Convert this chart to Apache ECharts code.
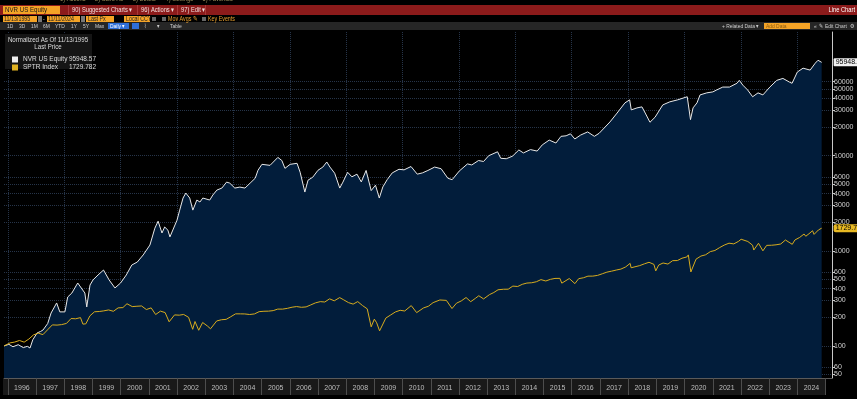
<!DOCTYPE html>
<html>
<head>
<meta charset="utf-8">
<script src="https://cdn.jsdelivr.net/npm/echarts@6/dist/echarts.min.js"></script>
<style>
html, body { margin: 0; padding: 0; background: #000; }
#main { width: 857px; height: 399px; }
</style>
</head>
<body>
<div id="main"></div>
<script>
// NVR US Equity, normalized to 100 on 11/13/1995
var nvrDates = [
    '1995-11-13',
    '1996-01-15', '1996-03-08', '1996-05-15', '1996-07-20', '1996-09-10', '1996-10-15', '1996-11-20',
    '1997-01-15', '1997-03-01', '1997-04-01', '1997-06-01', '1997-07-15', '1997-09-25', '1997-11-05',
    '1998-01-10', '1998-02-15', '1998-04-10', '1998-06-25', '1998-09-25', '1998-10-20', '1998-12-01',
    '1999-01-10', '1999-03-15', '1999-05-25', '1999-08-05', '1999-10-20',
    '2000-01-01', '2000-03-15', '2000-05-25', '2000-08-05', '2000-10-20',
    '2001-01-15', '2001-03-20', '2001-05-01', '2001-06-20', '2001-07-25', '2001-09-05', '2001-10-01',
    '2002-01-01', '2002-02-05', '2002-03-20', '2002-04-25', '2002-06-15', '2002-07-25', '2002-09-15', '2002-10-25', '2002-12-01',
    '2003-03-01', '2003-04-10', '2003-06-01', '2003-08-05', '2003-10-05', '2003-11-15',
    '2004-01-20', '2004-03-25', '2004-05-30', '2004-08-05', '2004-10-10', '2004-11-15',
    '2005-01-05', '2005-04-20', '2005-07-30', '2005-09-20', '2005-10-30',
    '2006-01-05', '2006-04-05', '2006-05-15', '2006-07-15', '2006-08-25', '2006-10-25',
    '2007-01-01', '2007-03-05', '2007-04-25', '2007-06-05', '2007-08-05', '2007-10-10', '2007-11-20',
    '2008-01-20', '2008-03-15', '2008-05-20', '2008-07-15', '2008-09-15', '2008-11-20',
    '2009-01-15', '2009-03-05', '2009-04-20', '2009-06-15', '2009-08-20', '2009-11-15',
    '2010-01-20', '2010-04-20', '2010-07-10', '2010-09-15', '2010-11-25',
    '2011-02-20', '2011-05-15', '2011-08-10', '2011-10-05',
    '2012-01-05', '2012-04-20', '2012-06-15', '2012-09-10', '2012-11-15',
    '2013-01-20', '2013-05-15', '2013-06-25', '2013-09-05', '2013-11-25',
    '2014-02-15', '2014-04-15', '2014-07-15', '2014-10-10', '2014-12-15',
    '2015-03-15', '2015-06-10', '2015-08-15', '2015-10-20', '2015-12-15',
    '2016-02-10', '2016-04-25', '2016-07-25', '2016-10-20', '2016-12-20',
    '2017-01-10', '2017-05-10', '2017-08-10', '2017-11-20',
    '2018-01-20', '2018-02-10', '2018-04-25', '2018-06-28', '2018-08-10', '2018-10-10', '2018-12-15',
    '2019-03-25', '2019-06-25', '2019-10-05',
    '2020-02-05', '2020-03-18', '2020-04-20', '2020-06-10', '2020-07-20', '2020-10-15',
    '2021-01-01', '2021-02-20', '2021-05-10', '2021-08-05', '2021-11-10', '2021-12-10',
    '2022-01-25', '2022-03-28', '2022-06-01', '2022-08-10', '2022-10-12',
    '2023-01-10', '2023-04-10', '2023-06-28', '2023-09-25', '2023-10-25',
    '2024-01-01', '2024-03-15', '2024-06-15', '2024-08-20', '2024-09-25', '2024-11-11'
];
var nvrValues = [
    100,
    104, 98, 103, 96, 99, 95, 116,
    137, 142, 147, 172, 222, 283, 228,
    228, 327, 360, 459, 360, 257, 437,
    495, 557, 628, 495, 407,
    459, 557, 709, 763, 905,
    1150, 1730, 2050, 1540, 1780, 1650, 1400,
    2100, 2680, 3590, 4050, 3590, 2680, 3420, 3260, 3590,
    3420, 3860, 4350, 4570, 5280, 5150,
    4570, 4680, 4570, 5150, 5800, 7030,
    8120, 7920, 9600, 8910, 7370,
    8120, 8320, 6700, 4150, 5530, 5940,
    7030, 7600, 8590, 7600, 6550, 4570, 5280,
    6700, 6000, 6400, 5300, 7000, 4300,
    4900, 3590, 4700, 5600, 6600, 7200,
    7100, 7700, 6400, 6600, 7000,
    7600, 7300, 5800, 5600,
    6900, 8200, 8000, 8900, 8700,
    10000, 11000, 9400, 9300, 9900,
    11500, 10700, 11600, 11200, 13000,
    14600, 13600, 16000, 16200, 17000,
    15000, 16500, 17800, 16000, 17200,
    17760, 22650, 28090, 35960,
    38700, 30330, 31840, 32630, 28090, 22500, 25400,
    34240, 36890, 38700,
    41700, 23950, 31840, 35960, 43600, 45820,
    46900, 49140, 52720, 52720, 57800, 62040,
    55230, 49140, 41700, 45820, 43600,
    52720, 62040, 65000, 59200, 57800,
    75900, 83300, 79500, 94000, 100900, 95948.57
];

// SPTR Index, normalized to 100 on 11/13/1995
var sptrDates = [
    '1995-11-13',
    '1996-01-31', '1996-03-29', '1996-05-31', '1996-07-31', '1996-09-30', '1996-11-29',
    '1997-01-31', '1997-03-31', '1997-05-30', '1997-07-31', '1997-09-30', '1997-11-28',
    '1998-01-30', '1998-03-31', '1998-05-29', '1998-07-31', '1998-08-31', '1998-10-08', '1998-11-30',
    '1999-01-29', '1999-03-31', '1999-05-28', '1999-07-30', '1999-09-30', '1999-11-30',
    '2000-01-31', '2000-03-24', '2000-05-31', '2000-07-31', '2000-09-29', '2000-11-30',
    '2001-01-31', '2001-03-30', '2001-05-31', '2001-07-31', '2001-09-21', '2001-11-30',
    '2002-01-31', '2002-03-28', '2002-05-31', '2002-07-23', '2002-08-22', '2002-10-09', '2002-11-29',
    '2003-01-31', '2003-03-11', '2003-05-30', '2003-07-31', '2003-09-30', '2003-11-28',
    '2004-01-30', '2004-03-31', '2004-05-28', '2004-07-30', '2004-09-30', '2004-11-30',
    '2005-01-31', '2005-03-31', '2005-05-31', '2005-07-29', '2005-09-30', '2005-11-30',
    '2006-01-31', '2006-03-31', '2006-05-31', '2006-07-31', '2006-09-29', '2006-11-30',
    '2007-01-31', '2007-03-30', '2007-05-31', '2007-07-31', '2007-10-09', '2007-11-30',
    '2008-01-31', '2008-03-31', '2008-05-30', '2008-07-31', '2008-09-30', '2008-11-20', '2008-12-31',
    '2009-01-30', '2009-03-09', '2009-05-29', '2009-07-31', '2009-09-30', '2009-11-30',
    '2010-01-29', '2010-04-23', '2010-07-02', '2010-09-30', '2010-11-30',
    '2011-01-31', '2011-04-29', '2011-07-22', '2011-10-03', '2011-11-30',
    '2012-01-31', '2012-04-02', '2012-06-01', '2012-07-31', '2012-09-14', '2012-11-15',
    '2013-01-31', '2013-03-28', '2013-05-21', '2013-07-31', '2013-09-30', '2013-11-29',
    '2014-01-31', '2014-03-31', '2014-05-30', '2014-07-31', '2014-09-30', '2014-11-28',
    '2015-01-30', '2015-03-31', '2015-05-29', '2015-07-31', '2015-08-25', '2015-11-30',
    '2016-02-11', '2016-03-31', '2016-05-31', '2016-07-29', '2016-09-30', '2016-11-30',
    '2017-01-31', '2017-03-31', '2017-05-31', '2017-07-31', '2017-09-29', '2017-11-30',
    '2018-01-26', '2018-02-08', '2018-05-31', '2018-07-31', '2018-09-28', '2018-11-30', '2018-12-24',
    '2019-01-31', '2019-03-29', '2019-05-31', '2019-07-31', '2019-09-30', '2019-11-29',
    '2020-01-31', '2020-02-19', '2020-03-23', '2020-05-29', '2020-07-31', '2020-09-30', '2020-11-30',
    '2021-01-29', '2021-03-31', '2021-05-28', '2021-07-30', '2021-09-30', '2021-11-30',
    '2022-01-03', '2022-03-31', '2022-05-31', '2022-06-16', '2022-08-16', '2022-10-12', '2022-11-30',
    '2023-01-31', '2023-03-31', '2023-05-31', '2023-07-31', '2023-10-27', '2023-11-30',
    '2024-01-31', '2024-03-28', '2024-04-19', '2024-05-31', '2024-07-16', '2024-08-05', '2024-09-30', '2024-11-11'
];
var sptrValues = [
    100,
    107.7, 109.7, 114.1, 109.6, 118.1, 130.6,
    136.2, 131.4, 147.6, 166.4, 165.6, 167.5,
    172.4, 194.2, 192.9, 198.5, 169.6, 170.7, 207.3,
    228.6, 230.1, 233.7, 239.0, 231.3, 251.2,
    253.0, 277.7, 259.1, 261.4, 263.2, 241.3,
    251.4, 213.9, 232.2, 224.3, 179.4, 211.9,
    210.6, 214.2, 199.8, 149.5, 180.6, 146.1, 176.4,
    161.7, 151.4, 183.1, 188.5, 190.3, 202.7,
    217.5, 217.3, 216.9, 214.0, 217.0, 229.3,
    231.5, 232.1, 235.1, 244.0, 243.8, 248.4,
    255.4, 259.3, 254.9, 257.2, 269.8, 283.8,
    292.3, 289.6, 312.8, 298.2, 322.4, 305.3,
    285.5, 275.2, 292.4, 265.7, 245.5, 158.8, 191.2,
    175.2, 144.0, 196.4, 211.8, 227.7, 236.9,
    233.0, 265.5, 224.0, 251.2, 261.0,
    285.3, 304.2, 301.3, 247.3, 281.5,
    297.3, 322.9, 291.9, 315.9, 337.1, 312.0,
    346.7, 364.5, 389.4, 394.5, 395.0, 425.7,
    421.7, 444.4, 458.3, 461.6, 473.1, 497.9,
    482.0, 501.4, 512.6, 513.6, 457.0, 511.3,
    452.1, 509.9, 520.8, 541.7, 542.1, 551.7,
    573.7, 596.8, 611.2, 628.0, 642.6, 677.7,
    738.2, 663.6, 699.2, 730.3, 758.1, 720.4, 615.2,
    708.5, 745.0, 725.8, 788.4, 790.1, 836.3,
    862.2, 906.1, 599.4, 817.6, 880.8, 908.5, 980.9,
    1008.9, 1082.0, 1147.7, 1203.6, 1182.6, 1257.6,
    1323.4, 1253.5, 1146.2, 1019.1, 1200.7, 1000.1, 1141.4,
    1144.7, 1156.4, 1180.0, 1299.3, 1170.5, 1299.5,
    1382.7, 1502.7, 1422.3, 1512.2, 1626.5, 1489.3, 1656.7, 1729.782
];

// axis ticks
var yearLabels = [1996, 1997, 1998, 1999, 2000, 2001, 2002, 2003, 2004, 2005, 2006, 2007, 2008, 2009, 2010,
    2011, 2012, 2013, 2014, 2015, 2016, 2017, 2018, 2019, 2020, 2021, 2022, 2023, 2024];
var yTickLabels = [50, 60, 100, 200, 300, 400, 500, 600, 1000, 2000, 3000, 4000, 5000, 6000,
    10000, 20000, 30000, 40000, 50000, 60000];

var FONT = '"Liberation Sans", Arial, sans-serif';

function ts(s) { return Date.parse(s); }   // ISO date -> UTC ms

function pairs(dates, values) {
    var out = [];
    for (var i = 0; i < dates.length; i++) {
        out.push([ts(dates[i]), values[i]]);
    }
    return out;
}

var yearStarts = [], yearMids = [], gridYears = [];
yearLabels.forEach(function (y) {
    yearStarts.push(ts(y + '-01-01'));
    yearMids.push(ts(y + '-07-02'));
    if (y % 2 == 0) gridYears.push(ts(y + '-01-01'));
});
yearStarts.push(ts('2025-01-01'));

var xMin = ts('1995-11-13'), xMax = ts('2025-03-25');

// toolbar pieces on top (not data)
function box(x, y, w, h, fill) {
    return {type: 'rect', shape: {x: x, y: y, width: w, height: h}, style: {fill: fill}, z: 100, silent: true};
}
// text squeezed horizontally, the terminal font is narrow
function txt(x, y, s, fill, size, align) {
    return {type: 'text', x: x, y: y, z: 101, silent: true, scaleX: 0.82,
        style: {text: s, fill: fill, font: (size || 7) + 'px ' + FONT, align: align || 'left', verticalAlign: 'middle'}};
}

var header = [
    box(0, 0, 857, 5, '#000'),
    txt(60, -1, '1) Actions      2) Save As      3) Delete      4) Settings      5) Favorites', '#9a8a5a', 7),
    box(0, 5, 857, 10, '#8c1b1b'),
    box(3, 6, 57, 8, '#f4a326'),
    txt(5, 10, 'NVR US Equity', '#1a1a1a', 7.5),
    box(68, 5, 1, 10, '#a83a3a'), box(137, 5, 1, 10, '#a83a3a'),
    box(177, 5, 1, 10, '#a83a3a'), box(205, 5, 1, 10, '#a83a3a'),
    txt(72, 10, '90) Suggested Charts \u25BE', '#f0dede', 7),
    txt(141, 10, '96) Actions \u25BE', '#f0dede', 7),
    txt(181, 10, '97) Edit \u25BE', '#f0dede', 7),
    txt(855, 10, 'Line Chart', '#ffffff', 7, 'right'),

    box(0, 15, 857, 7, '#000'),
    box(3, 16, 34, 6, '#f4a326'), txt(4, 19, '11/13/1995', '#222', 6.5),
    box(38, 16, 4, 6, '#777'),
    txt(43, 19, '-', '#ccc', 6),
    box(47, 16, 33, 6, '#f4a326'), txt(48, 19, '11/11/2024', '#222', 6.5),
    box(81, 16, 4, 6, '#777'),
    box(86, 16, 28, 6, '#f4a326'), txt(88, 19, 'Last Px', '#222', 6.5),
    box(124, 16, 26, 6, '#f4a326'), txt(126, 19, 'Local CCY', '#222', 6.5),
    box(152, 17, 4, 4, '#666'),
    box(162, 17, 4, 4, '#666'), txt(168, 19, 'Mov Avgs \u270E', '#e8a030', 6.5),
    box(202, 17, 4, 4, '#666'), txt(208, 19, 'Key Events', '#e8a030', 6.5),

    box(0, 22, 857, 8, '#262626'),
    txt(7, 26, '1D', '#cfcfcf', 6), txt(19, 26, '3D', '#cfcfcf', 6), txt(31, 26, '1M', '#cfcfcf', 6),
    txt(43, 26, '6M', '#cfcfcf', 6), txt(55, 26, 'YTD', '#cfcfcf', 6), txt(71, 26, '1Y', '#cfcfcf', 6),
    txt(83, 26, '5Y', '#cfcfcf', 6), txt(95, 26, 'Max', '#cfcfcf', 6),
    box(108, 23, 21, 6, '#2f6fd8'), txt(110, 26, 'Daily \u25BE', '#fff', 6),
    box(132, 23, 7, 6, '#2f6fd8'),
    txt(144, 26, '\u2307', '#cfcfcf', 6), txt(157, 26, '\u25BE', '#cfcfcf', 6),
    txt(170, 26, 'Table', '#cfcfcf', 6),
    txt(722, 26, '+ Related Data \u25BE', '#cfcfcf', 6),
    box(764, 23, 46, 6, '#f4a326'), txt(766, 26, 'Add Data', '#8a5a10', 6),
    txt(814, 26, '\u00AB  \u270E Edit Chart  \u2699', '#cfcfcf', 6),

    // legend panel
    box(5, 34, 87, 35, '#151515'),
    txt(48, 40, 'Normalized As Of 11/13/1995', '#dddddd', 7.5, 'center'),
    txt(48, 47, 'Last Price', '#dddddd', 7.5, 'center'),

    // x axis band
    {type: 'rect', shape: {x: 3, y: 379, width: 822, height: 16}, style: {fill: '#191919'}, z: -1, silent: true}
];

var myChart = echarts.init(document.getElementById('main'));

var option = {
    backgroundColor: '#000',
    animation: false,
    textStyle: {fontFamily: FONT},
    graphic: header,
    grid: {left: 4, right: 25, top: 32, bottom: 21},
    legend: {
        orient: 'vertical', left: 7, top: 51, z: 120,
        icon: 'rect', itemWidth: 6, itemHeight: 6, itemGap: 1, itemStyle: {borderWidth: 0},
        textStyle: {color: '#dddddd', fontSize: 6.5,
            rich: {n: {width: 45, fontSize: 6.5, color: '#dddddd'},
                   v: {width: 28, align: 'right', fontSize: 6.5, color: '#dddddd'}}},
        formatter: function (name) {
            var v = name == 'NVR US Equity' ? '95948.57' : '1729.782';
            return '{n|' + name + '}{v|' + v + '}';
        },
        data: ['NVR US Equity', 'SPTR Index']
    },
    xAxis: [{
        type: 'value',
        min: xMin,
        max: xMax,
        axisLine: {show: true, lineStyle: {color: '#5a5a5a'}},
        axisTick: {show: true, length: 17, customValues: yearStarts, lineStyle: {color: '#4d4d4d'}},
        axisLabel: {
            customValues: yearMids, color: '#bdbdbd', fontSize: 7, margin: 7,
            formatter: function (v) { return String(new Date(v).getUTCFullYear()); }
        },
        splitLine: {show: false}
    }, {
        type: 'value',
        min: xMin,
        max: xMax,
        axisLine: {show: false},
        axisTick: {show: false, customValues: gridYears},
        axisLabel: {show: false},
        splitLine: {show: true, lineStyle: {color: '#263449', type: 'dotted', width: 1}}
    }],
    yAxis: {
        type: 'log',
        logBase: 10,
        min: 46,
        max: 200000,
        position: 'right',
        axisLine: {show: true, lineStyle: {color: '#c8c8c8'}},
        axisTick: {show: true, length: 3, customValues: yTickLabels, lineStyle: {color: '#c8c8c8'}},
        axisLabel: {
            customValues: yTickLabels, color: '#d0d0d0', fontSize: 7, margin: 2,
            formatter: function (v) { return String(Math.round(v)); }
        },
        splitLine: {show: true, lineStyle: {color: '#263449', type: 'dotted', width: 1}}
    },
    series: [{
        name: 'NVR US Equity',
        type: 'line',
        color: '#eeeeee',
        showSymbol: false,
        z: 2,
        data: pairs(nvrDates, nvrValues),
        lineStyle: {color: '#e8e8e8', width: 1},
        areaStyle: {color: '#021d3b', opacity: 1},
        endLabel: {
            show: true, distance: 12, fontSize: 7, color: '#000',
            backgroundColor: '#f0f0f0', padding: [1, 2, 0, 2], borderRadius: 1,
            formatter: function (p) { return String(p.value[1]); }
        }
    }, {
        name: 'SPTR Index',
        type: 'line',
        color: '#e0b223',
        showSymbol: false,
        z: 3,
        data: pairs(sptrDates, sptrValues),
        lineStyle: {color: '#d8ac1e', width: 1},
        endLabel: {
            show: true, distance: 12, fontSize: 7, color: '#000',
            backgroundColor: '#e8b923', padding: [1, 2, 0, 2], borderRadius: 2,
            formatter: function (p) { return String(p.value[1]); }
        }
    }]
};

myChart.setOption(option);
</script>
</body>
</html>
